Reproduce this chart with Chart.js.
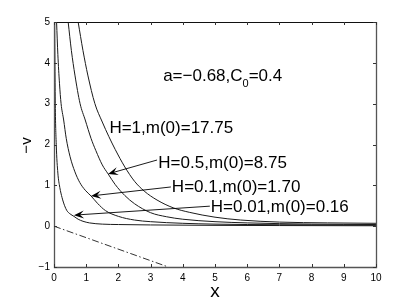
<!DOCTYPE html>
<html><head><meta charset="utf-8">
<script src="https://cdn.jsdelivr.net/npm/chart.js@4.4.1/dist/chart.umd.min.js"></script>
<style>html,body{margin:0;padding:0;background:#fff}#c{display:block}</style>
</head><body>
<canvas id="c" width="415" height="302"></canvas>
<script>
// ---- data ----
const xTicks = [0,1,2,3,4,5,6,7,8,9,10];
const yTicks = [-1,0,1,2,3,4,5];
const seriesNames = ['H=0.01','H=0.1','H=0.5','H=1'];

const h001X = [0.02,0.04,0.07,0.12,0.18,0.25,0.33,0.4,0.5,0.62,0.75,0.9,1.1,1.5,2,3,5,7,10];
const h001Y = [5.0,3.0,2.0,1.3,0.95,0.7,0.5,0.38,0.3,0.24,0.17,0.12,0.08,0.05,0.04,0.03,0.02,0.015,0.01];

const h01X = [0.08,0.12,0.17,0.22,0.3,0.38,0.5,0.65,0.8,0.97,1.15,1.35,1.6,2,2.5,3,4,5,7,10];
const h01Y = [5.0,4.2,3.5,3.0,2.6,2.15,1.7,1.33,1.07,0.88,0.74,0.56,0.38,0.24,0.15,0.11,0.07,0.05,0.035,0.025];

const h05X = [0.44,0.54,0.65,0.81,0.97,1.15,1.3,1.5,1.68,1.9,2.2,2.5,3,3.5,4,5,6,8,10];
const h05Y = [5.0,4.3,3.7,3.0,2.6,2.15,1.85,1.5,1.28,1.02,0.75,0.55,0.33,0.23,0.17,0.11,0.08,0.05,0.04];

const h1X = [0.75,0.9,1.05,1.27,1.5,1.7,1.9,2.2,2.5,2.8,3.2,3.7,4.2,5,5.8,7,8.5,10];
const h1Y = [5.0,4.3,3.7,3.0,2.55,2.2,1.88,1.45,1.1,0.86,0.64,0.45,0.34,0.22,0.15,0.1,0.08,0.07];

const refX = [0,3.55];
const refY = [0,-1];

// annotations (data units)
const labelTexts = ['H=1,m(0)=17.75','H=0.5,m(0)=8.75','H=0.1,m(0)=1.70','H=0.01,m(0)=0.16'];
const labelX = [1.72,3.24,3.66,4.87];
const labelY = [2.40,1.55,0.96,0.46];
const arrowTailX = [3.20,3.63,4.84];
const arrowTailY = [1.62,0.96,0.49];
const arrowTipX = [1.68,1.15,0.62];
const arrowTipY = [1.28,0.74,0.27];
const paramMain1 = 'a=\u22120.68,C', paramSub = '0', paramMain2 = '=0.4';
const paramX = 3.39, paramY = 3.68;

const pts = (xs, ys) => xs.map((x,i)=>({x, y: ys[i]}));

const FONT = '"Liberation Sans", Arial, Helvetica, sans-serif';

const decor = {
  id: 'decor',
  afterDatasetsDraw(chart) {
    const {ctx, chartArea: a, scales: {x, y}} = chart;
    ctx.save();
    // box
    ctx.lineWidth = 1.3;
    ctx.strokeStyle = '#555';
    ctx.beginPath();
    ctx.moveTo(a.left+0.5, a.top); ctx.lineTo(a.left+0.5, a.bottom+0.5);
    ctx.lineTo(a.right+0.5, a.bottom+0.5); ctx.lineTo(a.right+0.5, a.top);
    ctx.stroke();
    ctx.lineWidth = 1; ctx.strokeStyle = '#111';
    ctx.beginPath(); ctx.moveTo(a.left, a.top+0.5); ctx.lineTo(a.right+1, a.top+0.5); ctx.stroke();
    // inward ticks
    ctx.lineWidth = 1; ctx.strokeStyle = '#333';
    const L = 3;
    xTicks.forEach(v => {
      const px = Math.round(x.getPixelForValue(v)) + 0.5;
      ctx.beginPath();
      ctx.moveTo(px, a.bottom); ctx.lineTo(px, a.bottom - L);
      ctx.moveTo(px, a.top); ctx.lineTo(px, a.top + L);
      ctx.stroke();
    });
    yTicks.forEach(v => {
      const py = Math.round(y.getPixelForValue(v)) + 0.5;
      ctx.beginPath();
      ctx.moveTo(a.left, py); ctx.lineTo(a.left + L, py);
      ctx.moveTo(a.right, py); ctx.lineTo(a.right - L, py);
      ctx.stroke();
    });
    // texts
    ctx.fillStyle = '#000';
    ctx.textBaseline = 'middle';
    ctx.textAlign = 'left';
    ctx.font = '17px ' + FONT;
    labelTexts.forEach((t,i) => ctx.fillText(t, x.getPixelForValue(labelX[i]), y.getPixelForValue(labelY[i])));
    // parameter text with subscript
    let px = x.getPixelForValue(paramX), py = y.getPixelForValue(paramY);
    ctx.fillText(paramMain1, px, py);
    px += ctx.measureText(paramMain1).width;
    ctx.font = '11px ' + FONT;
    ctx.fillText(paramSub, px, py + 8);
    px += ctx.measureText(paramSub).width;
    ctx.font = '17px ' + FONT;
    ctx.fillText(paramMain2, px, py);
    // arrows
    ctx.strokeStyle = '#000'; ctx.fillStyle = '#000'; ctx.lineWidth = 0.9;
    arrowTipX.forEach((_, i) => {
      const x0 = x.getPixelForValue(arrowTailX[i]), y0 = y.getPixelForValue(arrowTailY[i]);
      const x1 = x.getPixelForValue(arrowTipX[i]), y1 = y.getPixelForValue(arrowTipY[i]);
      const ang = Math.atan2(y1 - y0, x1 - x0);
      const hl = 10, hw = 4;
      ctx.beginPath(); ctx.moveTo(x0, y0);
      ctx.lineTo(x1 - Math.cos(ang)*6, y1 - Math.sin(ang)*6); ctx.stroke();
      const bx = x1 - Math.cos(ang)*hl, by = y1 - Math.sin(ang)*hl;
      const nx = -Math.sin(ang), ny = Math.cos(ang);
      const mx = x1 - Math.cos(ang)*hl*0.6, my = y1 - Math.sin(ang)*hl*0.6;
      ctx.beginPath();
      ctx.moveTo(x1, y1);
      ctx.lineTo(bx + nx*hw, by + ny*hw);
      ctx.lineTo(mx, my);
      ctx.lineTo(bx - nx*hw, by - ny*hw);
      ctx.closePath(); ctx.fill();
    });
    // axis titles
    ctx.font = '19px ' + FONT;
    ctx.textAlign = 'center';
    ctx.textBaseline = 'alphabetic';
    ctx.fillText('x', (a.left + a.right)/2, 297);
    ctx.save();
    ctx.translate(30.5, (a.top + a.bottom)/2 + 1);
    ctx.rotate(-Math.PI/2);
    ctx.font = '15px ' + FONT;
    ctx.fillText('\u2212v', 0, 0);
    ctx.restore();
    ctx.restore();
  }
};

const lineDs = (label, xs, ys, extra) => Object.assign({
  label, data: pts(xs, ys), showLine: true, pointRadius: 0,
  borderColor: '#1a1a1a', borderWidth: 1, cubicInterpolationMode: 'monotone', fill: false
}, extra || {});

new Chart(document.getElementById('c'), {
  type: 'scatter',
  data: {
    datasets: [
      lineDs(seriesNames[0], h001X, h001Y),
      lineDs(seriesNames[1], h01X, h01Y),
      lineDs(seriesNames[2], h05X, h05Y),
      lineDs(seriesNames[3], h1X, h1Y),
      lineDs('reference', refX, refY, {borderDash: [7,2.5,1.5,2.5], borderColor: '#333', cubicInterpolationMode: 'default', tension: 0})
    ]
  },
  options: {
    responsive: false, animation: false, devicePixelRatio: 1,
    layout: {padding: {top: 22, right: 39, left: 0, bottom: 0}},
    plugins: {legend: {display: false}, tooltip: {enabled: false}},
    scales: {
      x: {
        type: 'linear', min: 0, max: 10,
        afterBuildTicks: s => { s.ticks = xTicks.map(v => ({value: v})); },
        afterFit: s => { s.height = 35; },
        grid: {display: false, drawTicks: false},
        border: {display: false},
        ticks: {padding: 5, color: '#000', font: {size: 10, family: FONT}, maxRotation: 0,
                callback: v => String(v).replace('-', '\u2212')}
      },
      y: {
        type: 'linear', min: -1, max: 5,
        afterBuildTicks: s => { s.ticks = yTicks.map(v => ({value: v})); },
        afterFit: s => { s.width = 54; },
        grid: {display: false, drawTicks: false},
        border: {display: false},
        ticks: {padding: 4, color: '#000', font: {size: 10, family: FONT},
                callback: v => String(v).replace('-', '\u2212')}
      }
    }
  },
  plugins: [decor]
});
</script>
</body></html>
